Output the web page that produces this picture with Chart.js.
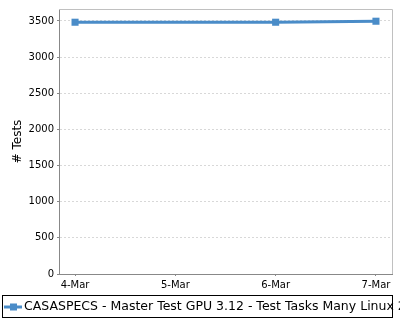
<!DOCTYPE html>
<html>
<head>
<meta charset="utf-8">
<script src="https://cdn.jsdelivr.net/npm/chart.js@4"></script>
<style>
  html, body { margin: 0; padding: 0; background: #fff; }
  #wrap { width: 400px; height: 320px; }
</style>
</head>
<body>
<div id="wrap"><canvas id="testsChart" width="400" height="320"></canvas></div>
<script>
const dates = ["4-Mar", "5-Mar", "6-Mar", "7-Mar"];
const testCounts = [3482, null, 3482, 3496];
const yTicks = [0, 500, 1000, 1500, 2000, 2500, 3000, 3500];
const seriesName = "CASASPECS - Master Test GPU 3.12 - Test Tasks Many Linux 2";
const lineColor = "#4a8cc8";
const fontFamily = "'DejaVu Sans', sans-serif";

// frame + legend box drawn by hand
const framePlugin = {
  id: "frame",
  afterDraw(chart) {
    const ctx = chart.ctx;
    const a = chart.chartArea;
    ctx.save();
    ctx.strokeStyle = "#c0c0c0";
    ctx.lineWidth = 1;
    ctx.beginPath();
    ctx.moveTo(a.left, a.top + 0.5);
    ctx.lineTo(a.right + 0.5, a.top + 0.5);
    ctx.lineTo(a.right + 0.5, a.bottom);
    ctx.stroke();

    // legend
    ctx.strokeStyle = "#000";
    ctx.strokeRect(2.5, 295.5, 390, 22);
    const ly = 307;
    ctx.strokeStyle = lineColor;
    ctx.lineWidth = 3;
    ctx.beginPath();
    ctx.moveTo(4, ly);
    ctx.lineTo(22, ly);
    ctx.stroke();
    ctx.fillStyle = lineColor;
    ctx.fillRect(10, ly - 3.5, 7, 7);
    ctx.fillStyle = "#000";
    ctx.font = "12.5px " + fontFamily;
    ctx.textBaseline = "middle";
    ctx.fillText(chart.data.datasets[0].label, 24, ly);
    ctx.restore();
  }
};

const ctx = document.getElementById("testsChart").getContext("2d");
window.testsChart = new Chart(ctx, {
  type: "line",
  data: {
    datasets: [{
      label: seriesName,
      data: testCounts.map((v, i) => ({ x: i, y: v })),
      borderColor: lineColor,
      backgroundColor: lineColor,
      borderWidth: 3,
      pointStyle: "rect",
      pointRadius: 5,
      pointHoverRadius: 5,
      pointBorderWidth: 0,
      spanGaps: true,
      tension: 0
    }]
  },
  options: {
    responsive: false,
    animation: false,
    layout: { padding: { top: 6, right: 8, bottom: 26, left: 0 } },
    plugins: {
      legend: { display: false },
      tooltip: { enabled: false }
    },
    scales: {
      x: {
        type: "linear",
        min: -0.16,
        max: 3.16,
        afterBuildTicks: (scale) => { scale.ticks = dates.map((d, i) => ({ value: i })); },
        afterFit: (scale) => { scale.height = 20; },
        ticks: {
          callback: (v) => dates[v],
          font: { family: fontFamily, size: 10 },
          color: "#000",
          padding: 3,
          maxRotation: 0
        },
        grid: { display: true, drawOnChartArea: false, tickLength: 2, tickColor: "#888" },
        border: { color: "#888", width: 1 }
      },
      y: {
        min: 0,
        max: 3665,
        afterBuildTicks: (scale) => { scale.ticks = yTicks.map(v => ({ value: v })); },
        afterFit: (scale) => { scale.width = 59; },
        ticks: {
          callback: (v) => String(v),
          font: { family: fontFamily, size: 10 },
          color: "#000",
          padding: 3
        },
        grid: {
          color: "#d8d8d8",
          tickLength: 2,
          tickColor: "#888",
          tickBorderDash: []
        },
        border: { color: "#888", width: 1, dash: [2, 2] },
        title: {
          display: true,
          text: "# Tests",
          font: { family: fontFamily, size: 12 },
          color: "#000",
          padding: { top: 11, bottom: 0 }
        }
      }
    }
  },
  plugins: [framePlugin]
});
</script>
</body>
</html>
